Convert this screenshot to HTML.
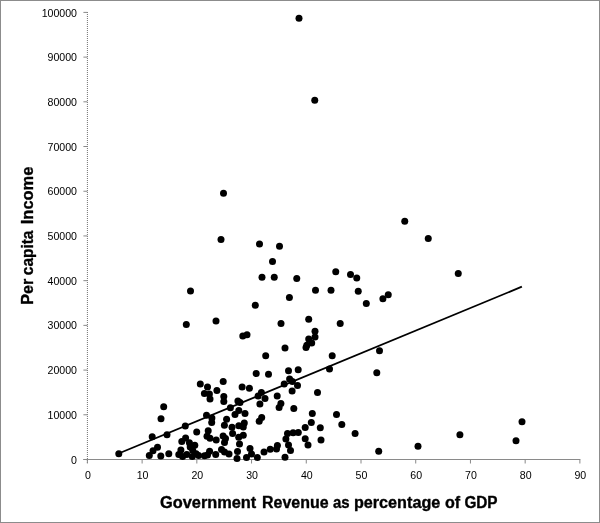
<!DOCTYPE html>
<html><head><meta charset="utf-8"><title>Per capita Income vs Government Revenue</title>
<style>
html,body{margin:0;padding:0;background:#fff;}
body{width:600px;height:523px;overflow:hidden;position:relative;}
svg{display:block;position:absolute;left:0;top:0;}
text{font-family:"Liberation Sans",sans-serif;fill:#000;}
.tl text{font-size:10.6px;}
.ttl{font-size:16px;font-weight:bold;stroke:#000;stroke-width:0.35px;stroke-linejoin:round;}
.tk{stroke:#888;}
</style></head><body>
<svg width="600" height="523" viewBox="0 0 600 523">
<rect x="0" y="0" width="600" height="523" fill="#fff"/>
<rect x="0.5" y="0.5" width="599" height="522" fill="none" stroke="#8c8c8c" stroke-width="1"/>
<g stroke="#8a8a8a" stroke-width="1" fill="none">
<line x1="87.4" y1="12" x2="87.4" y2="463.5" stroke-dasharray="1 1" stroke="#707070"/>
<line x1="83.4" y1="459.5" x2="580.38" y2="459.5"/>
<line class="tk" x1="83.4" y1="459.50" x2="87.4" y2="459.50"/>
<line class="tk" x1="83.4" y1="414.79" x2="87.4" y2="414.79"/>
<line class="tk" x1="83.4" y1="370.08" x2="87.4" y2="370.08"/>
<line class="tk" x1="83.4" y1="325.37" x2="87.4" y2="325.37"/>
<line class="tk" x1="83.4" y1="280.66" x2="87.4" y2="280.66"/>
<line class="tk" x1="83.4" y1="235.95" x2="87.4" y2="235.95"/>
<line class="tk" x1="83.4" y1="191.24" x2="87.4" y2="191.24"/>
<line class="tk" x1="83.4" y1="146.53" x2="87.4" y2="146.53"/>
<line class="tk" x1="83.4" y1="101.82" x2="87.4" y2="101.82"/>
<line class="tk" x1="83.4" y1="57.11" x2="87.4" y2="57.11"/>
<line class="tk" x1="83.4" y1="12.40" x2="87.4" y2="12.40"/>
<line class="tk" x1="87.40" y1="459.5" x2="87.40" y2="463.5"/>
<line class="tk" x1="142.12" y1="459.5" x2="142.12" y2="463.5"/>
<line class="tk" x1="196.84" y1="459.5" x2="196.84" y2="463.5"/>
<line class="tk" x1="251.56" y1="459.5" x2="251.56" y2="463.5"/>
<line class="tk" x1="306.28" y1="459.5" x2="306.28" y2="463.5"/>
<line class="tk" x1="361.00" y1="459.5" x2="361.00" y2="463.5"/>
<line class="tk" x1="415.72" y1="459.5" x2="415.72" y2="463.5"/>
<line class="tk" x1="470.44" y1="459.5" x2="470.44" y2="463.5"/>
<line class="tk" x1="525.16" y1="459.5" x2="525.16" y2="463.5"/>
<line class="tk" x1="579.88" y1="459.5" x2="579.88" y2="463.5"/>
</g>
<g class="tl">
<text x="77" y="463.60" text-anchor="end">0</text>
<text x="77" y="418.89" text-anchor="end">10000</text>
<text x="77" y="374.18" text-anchor="end">20000</text>
<text x="77" y="329.47" text-anchor="end">30000</text>
<text x="77" y="284.76" text-anchor="end">40000</text>
<text x="77" y="240.05" text-anchor="end">50000</text>
<text x="77" y="195.34" text-anchor="end">60000</text>
<text x="77" y="150.63" text-anchor="end">70000</text>
<text x="77" y="105.92" text-anchor="end">80000</text>
<text x="77" y="61.21" text-anchor="end">90000</text>
<text x="77" y="16.50" text-anchor="end">100000</text>
<text x="87.90" y="478.9" text-anchor="middle">0</text>
<text x="142.62" y="478.9" text-anchor="middle">10</text>
<text x="197.34" y="478.9" text-anchor="middle">20</text>
<text x="252.06" y="478.9" text-anchor="middle">30</text>
<text x="306.78" y="478.9" text-anchor="middle">40</text>
<text x="361.50" y="478.9" text-anchor="middle">50</text>
<text x="416.22" y="478.9" text-anchor="middle">60</text>
<text x="470.94" y="478.9" text-anchor="middle">70</text>
<text x="525.66" y="478.9" text-anchor="middle">80</text>
<text x="580.38" y="478.9" text-anchor="middle">90</text>
</g>
<line x1="118.6" y1="453.5" x2="521.9" y2="286.7" stroke="#000" stroke-width="1.8"/>
<g fill="#000">
<circle cx="299" cy="18.25" r="3.5"/>
<circle cx="314.75" cy="100.25" r="3.5"/>
<circle cx="223.5" cy="193.25" r="3.5"/>
<circle cx="221" cy="239.5" r="3.5"/>
<circle cx="259.5" cy="244" r="3.5"/>
<circle cx="279.5" cy="246.25" r="3.5"/>
<circle cx="272.5" cy="261.5" r="3.5"/>
<circle cx="262" cy="277.25" r="3.5"/>
<circle cx="274.25" cy="277.25" r="3.5"/>
<circle cx="296.75" cy="278.5" r="3.5"/>
<circle cx="190.5" cy="291" r="3.5"/>
<circle cx="289.4" cy="297.4" r="3.5"/>
<circle cx="404.75" cy="221.25" r="3.5"/>
<circle cx="428.25" cy="238.5" r="3.5"/>
<circle cx="335.75" cy="271.75" r="3.5"/>
<circle cx="350.5" cy="274.5" r="3.5"/>
<circle cx="356.75" cy="278" r="3.5"/>
<circle cx="315.5" cy="290.25" r="3.5"/>
<circle cx="331" cy="290.25" r="3.5"/>
<circle cx="358.25" cy="291.25" r="3.5"/>
<circle cx="388.25" cy="294.75" r="3.5"/>
<circle cx="382.9" cy="298.7" r="3.5"/>
<circle cx="366.3" cy="303.5" r="3.5"/>
<circle cx="458.25" cy="273.5" r="3.5"/>
<circle cx="186.3" cy="324.5" r="3.5"/>
<circle cx="255.3" cy="305.2" r="3.5"/>
<circle cx="216" cy="321" r="3.5"/>
<circle cx="281" cy="323.5" r="3.5"/>
<circle cx="242.8" cy="336" r="3.5"/>
<circle cx="247" cy="334.8" r="3.5"/>
<circle cx="265.7" cy="355.8" r="3.5"/>
<circle cx="256.2" cy="373.5" r="3.5"/>
<circle cx="268.5" cy="374.2" r="3.5"/>
<circle cx="200.3" cy="384" r="3.5"/>
<circle cx="223.2" cy="381.6" r="3.5"/>
<circle cx="308.7" cy="319.2" r="3.5"/>
<circle cx="340.2" cy="323.5" r="3.5"/>
<circle cx="315" cy="331.2" r="3.5"/>
<circle cx="315" cy="337" r="3.5"/>
<circle cx="308.7" cy="339" r="3.5"/>
<circle cx="311.7" cy="343" r="3.5"/>
<circle cx="306.8" cy="345.3" r="3.5"/>
<circle cx="306" cy="347.4" r="3.5"/>
<circle cx="285" cy="348" r="3.5"/>
<circle cx="332.2" cy="355.7" r="3.5"/>
<circle cx="329.5" cy="369" r="3.5"/>
<circle cx="288.5" cy="370.8" r="3.5"/>
<circle cx="298.2" cy="369.7" r="3.5"/>
<circle cx="289.6" cy="379" r="3.5"/>
<circle cx="292.4" cy="381.4" r="3.5"/>
<circle cx="284.2" cy="384" r="3.5"/>
<circle cx="379.5" cy="350.7" r="3.5"/>
<circle cx="376.8" cy="372.7" r="3.5"/>
<circle cx="118.8" cy="453.8" r="3.5"/>
<circle cx="163.7" cy="406.7" r="3.5"/>
<circle cx="161" cy="418.7" r="3.5"/>
<circle cx="152.2" cy="436.8" r="3.5"/>
<circle cx="167" cy="434.7" r="3.5"/>
<circle cx="185.3" cy="426" r="3.5"/>
<circle cx="196.7" cy="432" r="3.5"/>
<circle cx="157.5" cy="447.2" r="3.5"/>
<circle cx="153" cy="450.8" r="3.5"/>
<circle cx="149.3" cy="455.5" r="3.5"/>
<circle cx="160.8" cy="456" r="3.5"/>
<circle cx="168.8" cy="453.8" r="3.5"/>
<circle cx="211.7" cy="422.5" r="3.5"/>
<circle cx="208.2" cy="430.7" r="3.5"/>
<circle cx="207" cy="436.3" r="3.5"/>
<circle cx="210" cy="438.3" r="3.5"/>
<circle cx="216.2" cy="439.9" r="3.5"/>
<circle cx="185.6" cy="438.1" r="3.5"/>
<circle cx="181.8" cy="441.5" r="3.5"/>
<circle cx="189.4" cy="442.7" r="3.5"/>
<circle cx="194.8" cy="445.3" r="3.5"/>
<circle cx="190.2" cy="446.9" r="3.5"/>
<circle cx="180.9" cy="449.9" r="3.5"/>
<circle cx="192.7" cy="450.3" r="3.5"/>
<circle cx="178.8" cy="454.5" r="3.5"/>
<circle cx="182.6" cy="456.6" r="3.5"/>
<circle cx="186.8" cy="454.5" r="3.5"/>
<circle cx="192.3" cy="456.6" r="3.5"/>
<circle cx="196.1" cy="453.7" r="3.5"/>
<circle cx="198.6" cy="455.4" r="3.5"/>
<circle cx="204.5" cy="455.8" r="3.5"/>
<circle cx="209.6" cy="451.3" r="3.5"/>
<circle cx="207.5" cy="455" r="3.5"/>
<circle cx="215.7" cy="454.5" r="3.5"/>
<circle cx="221.5" cy="449.5" r="3.5"/>
<circle cx="207.5" cy="387" r="3.5"/>
<circle cx="216.9" cy="390.5" r="3.5"/>
<circle cx="204.4" cy="393.6" r="3.5"/>
<circle cx="209.4" cy="394" r="3.5"/>
<circle cx="210" cy="399" r="3.5"/>
<circle cx="223.8" cy="396.5" r="3.5"/>
<circle cx="223.8" cy="401.5" r="3.5"/>
<circle cx="242.1" cy="387.1" r="3.5"/>
<circle cx="249.4" cy="388.3" r="3.5"/>
<circle cx="261.4" cy="392.4" r="3.5"/>
<circle cx="258.1" cy="396.1" r="3.5"/>
<circle cx="265" cy="398.6" r="3.5"/>
<circle cx="259.9" cy="404" r="3.5"/>
<circle cx="277.2" cy="396.1" r="3.5"/>
<circle cx="237.9" cy="400.9" r="3.5"/>
<circle cx="240" cy="402.4" r="3.5"/>
<circle cx="230.4" cy="407.8" r="3.5"/>
<circle cx="238.8" cy="410.5" r="3.5"/>
<circle cx="235" cy="414.5" r="3.5"/>
<circle cx="245" cy="413.4" r="3.5"/>
<circle cx="206.5" cy="415.3" r="3.5"/>
<circle cx="211.9" cy="418" r="3.5"/>
<circle cx="226.6" cy="419.3" r="3.5"/>
<circle cx="224.4" cy="425.3" r="3.5"/>
<circle cx="261.7" cy="417.6" r="3.5"/>
<circle cx="259.2" cy="421.3" r="3.5"/>
<circle cx="244.3" cy="423" r="3.5"/>
<circle cx="238.8" cy="425.7" r="3.5"/>
<circle cx="243.3" cy="427.1" r="3.5"/>
<circle cx="232" cy="427.2" r="3.5"/>
<circle cx="232.6" cy="433.4" r="3.5"/>
<circle cx="223.1" cy="435.9" r="3.5"/>
<circle cx="225.5" cy="438.5" r="3.5"/>
<circle cx="243.3" cy="435.3" r="3.5"/>
<circle cx="238.7" cy="437.2" r="3.5"/>
<circle cx="239.5" cy="444" r="3.5"/>
<circle cx="224.5" cy="442.5" r="3.5"/>
<circle cx="237.5" cy="451.5" r="3.5"/>
<circle cx="237" cy="458.5" r="3.5"/>
<circle cx="250" cy="448.5" r="3.5"/>
<circle cx="251.5" cy="454" r="3.5"/>
<circle cx="246.5" cy="457.5" r="3.5"/>
<circle cx="257.3" cy="457.5" r="3.5"/>
<circle cx="264" cy="452" r="3.5"/>
<circle cx="224.5" cy="452" r="3.5"/>
<circle cx="229" cy="454" r="3.5"/>
<circle cx="297.5" cy="385.5" r="3.5"/>
<circle cx="292.1" cy="390.9" r="3.5"/>
<circle cx="317.5" cy="392.6" r="3.5"/>
<circle cx="280.9" cy="403.6" r="3.5"/>
<circle cx="279.1" cy="407.4" r="3.5"/>
<circle cx="293.8" cy="408.4" r="3.5"/>
<circle cx="312.3" cy="413.4" r="3.5"/>
<circle cx="336.5" cy="414.5" r="3.5"/>
<circle cx="311.3" cy="422.4" r="3.5"/>
<circle cx="305.2" cy="427.6" r="3.5"/>
<circle cx="320.3" cy="427.7" r="3.5"/>
<circle cx="298.3" cy="432.6" r="3.5"/>
<circle cx="293.1" cy="432.7" r="3.5"/>
<circle cx="287.5" cy="433.4" r="3.5"/>
<circle cx="285.9" cy="439" r="3.5"/>
<circle cx="305.2" cy="438.7" r="3.5"/>
<circle cx="321" cy="440" r="3.5"/>
<circle cx="277.4" cy="445.5" r="3.5"/>
<circle cx="288.5" cy="445" r="3.5"/>
<circle cx="308" cy="445" r="3.5"/>
<circle cx="290.5" cy="450.5" r="3.5"/>
<circle cx="276.5" cy="449" r="3.5"/>
<circle cx="270.2" cy="449.3" r="3.5"/>
<circle cx="285" cy="457.3" r="3.5"/>
<circle cx="341.8" cy="424.5" r="3.5"/>
<circle cx="355.1" cy="433.5" r="3.5"/>
<circle cx="378.7" cy="451.3" r="3.5"/>
<circle cx="418" cy="446.2" r="3.5"/>
<circle cx="459.9" cy="434.7" r="3.5"/>
<circle cx="522" cy="421.7" r="3.5"/>
<circle cx="516" cy="440.7" r="3.5"/>
</g>
<text class="ttl" y="508.3"><tspan x="160.0" textLength="96.3" lengthAdjust="spacingAndGlyphs">Government</tspan> <tspan x="262.1" textLength="66.5" lengthAdjust="spacingAndGlyphs">Revenue</tspan> <tspan x="333.0" textLength="16.6" lengthAdjust="spacingAndGlyphs">as</tspan> <tspan x="353.9" textLength="86.4" lengthAdjust="spacingAndGlyphs">percentage</tspan> <tspan x="445.0" textLength="15.2" lengthAdjust="spacingAndGlyphs">of</tspan> <tspan x="464.4" textLength="33.2" lengthAdjust="spacingAndGlyphs">GDP</tspan></text>
<text class="ttl" transform="translate(33,304) rotate(-90)"><tspan x="-0.8" textLength="26" lengthAdjust="spacingAndGlyphs">Per</tspan> <tspan x="28.8" textLength="44.6" lengthAdjust="spacingAndGlyphs">capita</tspan> <tspan x="79.8" textLength="57.6" lengthAdjust="spacingAndGlyphs">Income</tspan></text>
</svg>
</body></html>
